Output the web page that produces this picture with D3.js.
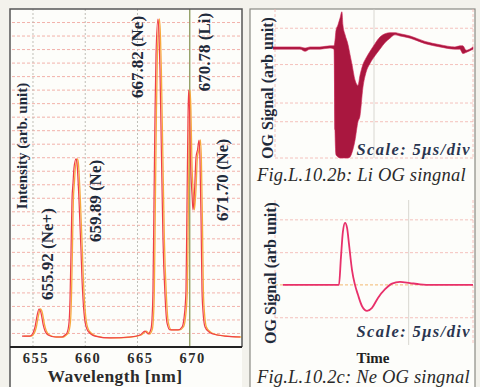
<!DOCTYPE html>
<html>
<head>
<meta charset="utf-8">
<script src="https://cdn.jsdelivr.net/npm/d3@7"></script>
<style>
  body { margin: 0; background: #f3f2ec; }
  svg { display: block; font-family: 'Liberation Serif', 'Times New Roman', serif; }
</style>
</head>
<body>
<svg id="chart" width="480" height="387"></svg>
<script>
// Fig. a: emission spectrum
const wavelength = [653.95, 654.71, 655.00, 655.19, 655.38, 655.58, 655.77, 655.96, 656.15, 656.44, 657.11, 657.78,
  658.06, 658.25, 658.45, 658.54, 658.64, 658.73, 658.83, 658.92, 659.12, 659.21, 659.31, 659.40, 659.59, 659.69,
  659.79, 659.98, 660.26, 660.93, 662.37, 664.28, 665.24, 665.72, 666.01, 666.29, 666.39, 666.48, 666.58, 666.68,
  666.77, 666.96, 667.06, 667.15, 667.25, 667.35, 667.44, 667.63, 667.82, 668.11, 668.88, 669.26, 669.45, 669.64,
  669.74, 669.83, 669.89, 669.98, 670.07, 670.22, 670.31, 670.46, 670.60, 670.74, 670.89, 670.98, 671.08, 671.17,
  671.27, 671.46, 671.84, 672.23, 673.37, 674.81];
const intensity = [0.81, 0.81, 1.04, 1.48, 2.29, 2.81, 2.51, 1.70, 1.18, 0.89, 0.74, 0.74,
  0.89, 1.04, 1.85, 3.48, 7.17, 10.87, 12.13, 13.24, 13.91, 13.61, 12.35, 10.87, 7.17, 4.96,
  3.48, 1.85, 1.18, 0.81, 0.67, 0.74, 0.89, 1.18, 0.96, 1.33, 2.14, 4.22, 10.87, 17.53,
  21.60, 24.26, 23.08, 20.49, 16.05, 11.61, 7.91, 3.85, 1.78, 1.26, 1.26, 1.48, 2.14, 4.22,
  10.87, 16.79, 19.01, 17.53, 13.83, 11.24, 10.13, 11.61, 14.05, 14.57, 15.31, 13.83, 9.39, 4.22,
  2.59, 1.48, 1.11, 0.96, 0.81, 0.74];
const wlTicks = [655, 660, 665, 670];
const peakLabels = ['655.92 (Ne+)', '659.89 (Ne)', '667.82 (Ne)', '670.78 (Li)', '671.70 (Ne)'];
const peakLabelWl = [656.34, 660.93, 664.95, 671.36, 673.09];
const peakLabelI = [6.88, 10.80, 21.45, 21.82, 12.35];

// Fig. b: Li OG signal (noisy band: upper / lower envelope)
const liTime = [-0.10, 0.76, 1.26, 1.52, 1.77, 2.27, 2.78, 2.98, 3.03, 3.08, 3.18, 3.28, 3.38, 3.43, 3.54, 3.69,
  3.79, 3.89, 4.04, 4.19, 4.29, 4.44, 4.60, 4.80, 5.05, 5.30, 5.56, 5.81, 6.06, 6.31, 6.82, 7.58, 8.33, 9.09,
  9.34, 9.49, 9.65, 10.00];
const liHigh = [0.01, 0.01, 0.01, 0.00, 0.01, 0.01, 0.02, 0.02, 0.07, 0.16, 0.21, 0.27, 0.33, 0.21, 0.12, 0.03,
  -0.06, -0.15, -0.29, -0.34, -0.25, -0.15, -0.09, -0.03, 0.04, 0.10, 0.13, 0.14, 0.14, 0.13, 0.11, 0.06, 0.03, 0.01,
  0.02, 0.02, -0.02, 0.01];
const liLow = [-0.01, -0.01, -0.01, -0.03, -0.01, -0.01, 0.00, -0.01, -0.75, -0.97, -0.99, -1.00, -1.00, -1.00, -1.00, -1.00,
  -0.99, -0.95, -0.84, -0.67, -0.62, -0.36, -0.22, -0.14, -0.07, -0.01, 0.05, 0.09, 0.12, 0.11, 0.09, 0.04, 0.01, -0.01,
  -0.01, -0.05, -0.04, -0.01];
const liGrid = [0.18, -0.15, -0.5, -0.67];

// Fig. c: Ne OG signal
const neTime = [0.40, 1.26, 2.27, 3.23, 3.33, 3.43, 3.54, 3.64, 3.74, 3.89, 4.04, 4.19, 4.39, 4.65, 4.90, 5.20,
  5.56, 5.91, 6.31, 6.82, 7.32, 7.93, 10.00];
const neSignal = [0, 0, 0, 0, 0.44, 0.86, 1.00, 0.92, 0.65, 0.24, 0, -0.16, -0.34, -0.42, -0.37, -0.21,
  -0.07, 0.02, 0.05, 0.03, 0.01, 0, 0];
const neGrid = [1.05, 0.52, -0.53];

const svg = d3.select('#chart');
const labelColor = '#1f2a3a';

// ---------- left panel: spectrum ----------
const x = d3.scaleLinear().domain([652.8, 675]).range([10, 242]);
const y = d3.scaleLinear().domain([0, 25]).range([347, 9]);

svg.append('rect')
  .attr('x', x.range()[0]).attr('y', y.range()[1])
  .attr('width', x.range()[1] - x.range()[0]).attr('height', 387 - y.range()[1])
  .attr('fill', '#fdfdfa');

svg.append('g')
  .selectAll('line')
  .data(y.ticks(25).filter(d => d > 0 && d < 25))
  .join('line')
    .attr('x1', x.range()[0] + 2).attr('x2', x.range()[1] - 2)
    .attr('y1', d => y(d)).attr('y2', d => y(d))
    .attr('stroke', '#f0a9a2')
    .attr('stroke-width', 0.9)
    .attr('stroke-dasharray', '3,2');

svg.append('g')
  .selectAll('line')
  .data(wlTicks)
  .join('line')
    .attr('x1', d => x(d)).attr('x2', d => x(d))
    .attr('y1', y(25)).attr('y2', y(0))
    .attr('stroke', d => d === 670 ? '#8c9a5c' : '#b9b8b0')
    .attr('stroke-width', d => d === 670 ? 1.3 : 0.9)
    .attr('stroke-dasharray', d => d === 670 ? null : '2,2');

const spectrum = wavelength.map((w, i) => ({ w, v: intensity[i] }));
const line = d3.line().x(d => x(d.w)).y(d => y(d.v)).curve(d3.curveMonotoneX);

svg.append('path')
  .datum(spectrum)
  .attr('d', line)
  .attr('transform', 'translate(1.4,0)')
  .attr('fill', 'none')
  .attr('stroke', '#f7a83c')
  .attr('stroke-width', 1.3);

svg.append('path')
  .datum(spectrum)
  .attr('d', line)
  .attr('fill', 'none')
  .attr('stroke', '#ef3f48')
  .attr('stroke-width', 1.2);

// frame
svg.append('path')
  .attr('d', `M${x.range()[0]},387V${y(25)}H${x.range()[1]}V${y(0)}`)
  .attr('fill', 'none')
  .attr('stroke', '#555')
  .attr('stroke-width', 1.5);

svg.append('line')
  .attr('x1', x.range()[0]).attr('x2', x.range()[1])
  .attr('y1', y(0)).attr('y2', y(0))
  .attr('stroke', '#222')
  .attr('stroke-width', 2.2);

svg.append('g')
  .selectAll('text')
  .data(wlTicks)
  .join('text')
    .attr('x', d => x(d) + 3)
    .attr('y', 363)
    .attr('text-anchor', 'middle')
    .attr('font-size', 14.5)
    .attr('font-weight', 'bold')
    .attr('letter-spacing', 1.5)
    .attr('fill', '#2b2b2b')
    .text(d => d);

svg.append('text')
  .attr('x', 115).attr('y', 382)
  .attr('text-anchor', 'middle')
  .attr('font-size', 17.5)
  .attr('font-weight', 'bold')
  .attr('letter-spacing', 0.4)
  .attr('fill', '#2b2b2b')
  .text('Wavelength [nm]');

svg.append('text')
  .attr('transform', 'translate(22,146) rotate(-90)')
  .attr('text-anchor', 'middle')
  .attr('dy', '0.35em')
  .attr('font-size', 15)
  .attr('font-weight', 'bold')
  .attr('fill', labelColor)
  .text('Intensity (arb. unit)');

svg.append('g')
  .selectAll('text')
  .data(peakLabels)
  .join('text')
    .attr('transform', (d, i) => `translate(${x(peakLabelWl[i])},${y(peakLabelI[i])}) rotate(-90)`)
    .attr('text-anchor', 'middle')
    .attr('dy', '0.35em')
    .attr('font-size', 17)
    .attr('font-weight', 'bold')
    .attr('fill', labelColor)
    .text(d => d);

// ---------- right panels: OG signals ----------
svg.append('rect')
  .attr('x', 250).attr('y', 9)
  .attr('width', 225).attr('height', 390)
  .attr('fill', '#fdfdfa')
  .attr('stroke', '#8a8a84')
  .attr('stroke-width', 1.2);

const t = d3.scaleLinear().domain([0, 10]).range([275, 473]);
const yLi = d3.scaleLinear().domain([-1.0, 0.355]).range([158, 9]);
const yNe = d3.scaleLinear().domain([-0.97, 1.37]).range([345, 200]);

function drawGrid(yScale, hValues, vValues, zeroLine) {
  const g = svg.append('g');
  g.selectAll('line.h')
    .data(hValues)
    .join('line')
      .attr('class', 'h')
      .attr('x1', t(0)).attr('x2', t(10))
      .attr('y1', d => yScale(d)).attr('y2', d => yScale(d))
      .attr('stroke', '#f1b3ad')
      .attr('stroke-width', 0.8)
      .attr('stroke-dasharray', '3,2');
  g.selectAll('line.v')
    .data(vValues)
    .join('line')
      .attr('class', 'v')
      .attr('x1', d => t(d)).attr('x2', d => t(d))
      .attr('y1', yScale.range()[1]).attr('y2', yScale.range()[0])
      .attr('stroke', (d, i) => i === 1 ? '#cfcdc6' : '#f1b3ad')
      .attr('stroke-width', 0.8)
      .attr('stroke-dasharray', (d, i) => i === 1 ? null : '3,2');
  if (zeroLine) {
    g.append('line')
      .attr('x1', t(0)).attr('x2', t(10))
      .attr('y1', yScale(0)).attr('y2', yScale(0))
      .attr('stroke', '#f2b060')
      .attr('stroke-width', 0.9)
      .attr('stroke-dasharray', '3,2');
  }
}

drawGrid(yLi, liGrid.concat([yLi.domain()[0]]), [0, 5, 10], false);
drawGrid(yNe, neGrid, [0, 6.75, 10], true);

const liData = liTime.map((d, i) => ({ t: d, hi: liHigh[i], lo: liLow[i] }));
svg.append('path')
  .datum(liData)
  .attr('d', d3.area().x(d => t(d.t)).y0(d => yLi(d.lo)).y1(d => yLi(d.hi)).curve(d3.curveMonotoneX))
  .attr('fill', '#a9173f')
  .attr('stroke', '#cc2454')
  .attr('stroke-width', 0.6);

const neData = neTime.map((d, i) => ({ t: d, v: neSignal[i] }));
svg.append('path')
  .datum(neData)
  .attr('d', d3.line().x(d => t(d.t)).y(d => yNe(d.v)).curve(d3.curveMonotoneX))
  .attr('fill', 'none')
  .attr('stroke', '#e8306a')
  .attr('stroke-width', 1.8);

// texts
[[267, 88], [270, 273]].forEach(([cx, cy]) => {
  svg.append('text')
    .attr('transform', `translate(${cx},${cy}) rotate(-90)`)
    .attr('text-anchor', 'middle')
    .attr('dy', '0.35em')
    .attr('font-size', 16)
    .attr('font-weight', 'bold')
    .attr('fill', labelColor)
    .text('OG Signal (arb unit)');
});

[155, 337].forEach(by => {
  svg.append('text')
    .attr('x', 471).attr('y', by)
    .attr('text-anchor', 'end')
    .attr('font-size', 16.5)
    .attr('font-weight', 'bold')
    .attr('font-style', 'italic')
    .attr('letter-spacing', 1.4)
    .attr('fill', '#2a3550')
    .text('Scale: 5\u03bcs/div');
});

svg.append('text')
  .attr('x', 373).attr('y', 363)
  .attr('text-anchor', 'middle')
  .attr('font-size', 15)
  .attr('font-weight', 'bold')
  .attr('fill', '#222')
  .text('Time');

[['Fig.L.10.2b: Li OG singnal', 181], ['Fig.L.10.2c: Ne OG singnal', 383]].forEach(([txt, by]) => {
  svg.append('text')
    .attr('x', 257).attr('y', by)
    .attr('font-size', 18.5)
    .attr('font-style', 'italic')
    .attr('letter-spacing', 0.2)
    .attr('fill', '#2a2a2a')
    .text(txt);
});
</script>
</body>
</html>
